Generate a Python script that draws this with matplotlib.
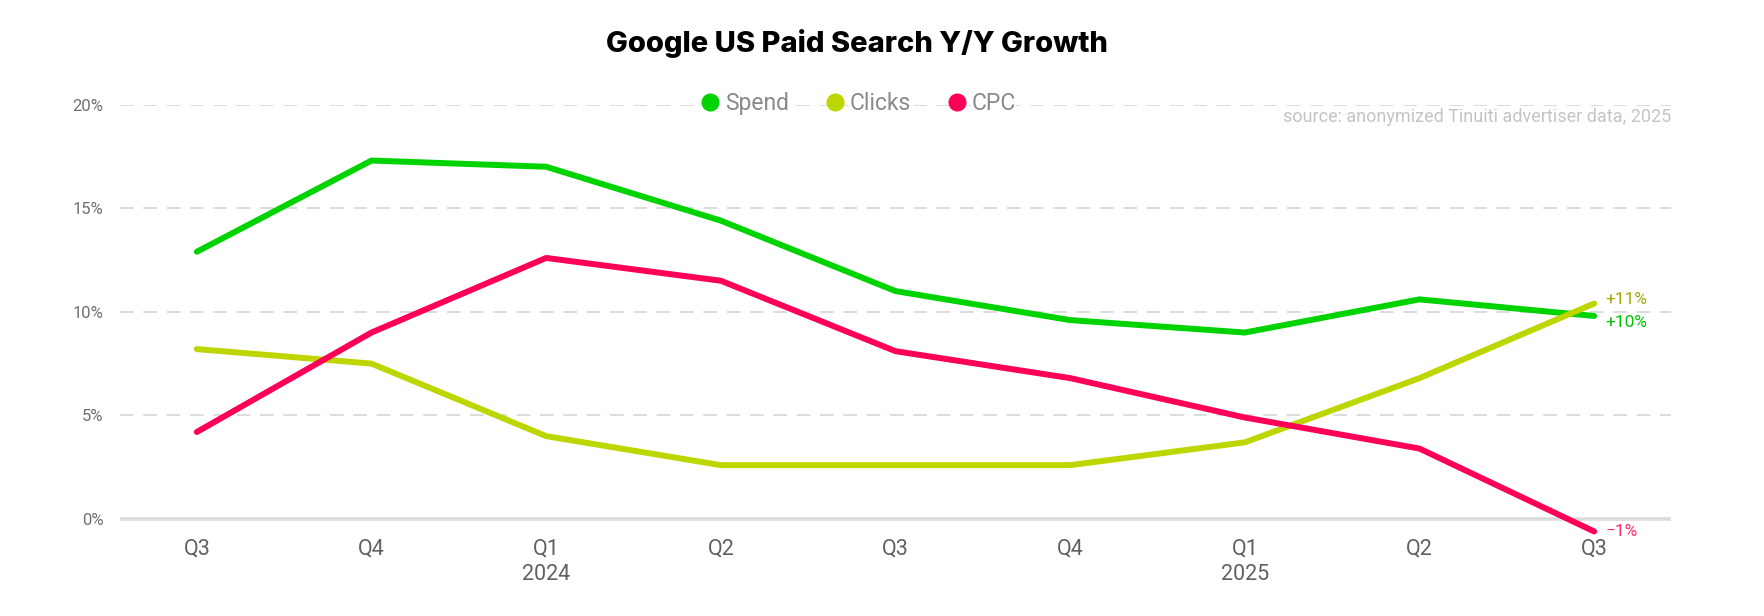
import matplotlib
matplotlib.use("Agg")
import matplotlib.pyplot as plt
from matplotlib.lines import Line2D

quarters = ["Q3", "Q4", "Q1\n2024", "Q2", "Q3", "Q4", "Q1\n2025", "Q2", "Q3"]
spend = [12.9, 17.3, 17.0, 14.4, 11.0, 9.6, 9.0, 10.6, 9.8]
clicks = [8.2, 7.5, 4.0, 2.6, 2.6, 2.6, 3.7, 6.8, 10.4]
cpc = [4.2, 9.0, 12.6, 11.5, 8.1, 6.8, 4.9, 3.4, -0.6]
series_names = ["Spend", "Clicks", "CPC"]
end_labels = ["+10%", "+11%", "\u22121%"]
y_ticks = [0, 5, 10, 15, 20]

line_colors = ["#00d300", "#bed600", "#ff0058"]
label_colors = ["#00c400", "#a3a800", "#ff2a6a"]

plt.rcParams["font.family"] = ["Roboto", "DejaVu Sans"]

W, H = 1764, 616
fig = plt.figure(figsize=(W / 100, H / 100), dpi=100)
left_px, right_px, top_px, bottom_px = 120, 1671, 104.6, 535.6
ax = fig.add_axes([left_px / W, 1 - bottom_px / H, (right_px - left_px) / W, (bottom_px - top_px) / H])

x = list(range(len(quarters)))
for vals, c in zip([spend, clicks, cpc], line_colors):
    ax.plot(x, vals, color=c, lw=4.3, solid_capstyle="round", solid_joinstyle="round", zorder=3, clip_on=False)

ax.set_xlim(-0.44, len(quarters) - 1 + 0.44)
ax.set_ylim(-0.8, 20)

for t in y_ticks:
    if t == 0:
        ax.axhline(t, color="#dcdcdc", lw=2.6, zorder=1)
    else:
        ax.axhline(t, color="#dcdcdc", lw=1.4, ls=(0, (7, 5)), zorder=1)

ax.set_yticks(y_ticks)
ax.set_yticklabels([f"{t}%" for t in y_ticks], color="#707070", fontsize=12)
ax.set_xticks(x)
ax.set_xticklabels(quarters, color="#606060", fontsize=15.5, linespacing=1.3, va="top")
ax.tick_params(axis="both", length=0)
ax.tick_params(axis="x", pad=2)
ax.tick_params(axis="y", pad=12)
for s in ax.spines.values():
    s.set_visible(False)

# end labels
last = len(quarters) - 1
ax.annotate(end_labels[1], (last, clicks[-1]), xytext=(8, 3), textcoords="offset points",
            color=label_colors[1], fontsize=12.5, va="center", ha="left")
ax.annotate(end_labels[0], (last, spend[-1]), xytext=(8, -5), textcoords="offset points",
            color=label_colors[0], fontsize=12.5, va="center", ha="left")
ax.annotate(end_labels[2], (last, cpc[-1]), xytext=(8, 0), textcoords="offset points",
            color=label_colors[2], fontsize=12.5, va="center", ha="left")

fig.text(857 / W, 1 - 43 / H, "Google US Paid Search Y/Y Growth", ha="center", va="center",
         fontsize=21, fontweight="heavy", family=["Inter", "DejaVu Sans"], color="#000000")

fig.text(right_px / W, 1 - 117 / H, "source: anonymized Tinuiti advertiser data, 2025", ha="right",
         va="center", fontsize=13, color="#c4c4c4")

handles = [Line2D([], [], marker="o", ls="none", markersize=12, color=c) for c in line_colors]
leg = fig.legend(handles, series_names, loc="center", bbox_to_anchor=(857 / W, 1 - 104 / H), ncol=3,
                 frameon=False, fontsize=16.5, handletextpad=0.15, columnspacing=1.5, handlelength=1.0)
for t in leg.get_texts():
    t.set_color("#8a8a8a")
    t.set_bbox(dict(facecolor="white", edgecolor="none", pad=0.5))

fig.savefig("out.png", dpi=100, facecolor="white")
